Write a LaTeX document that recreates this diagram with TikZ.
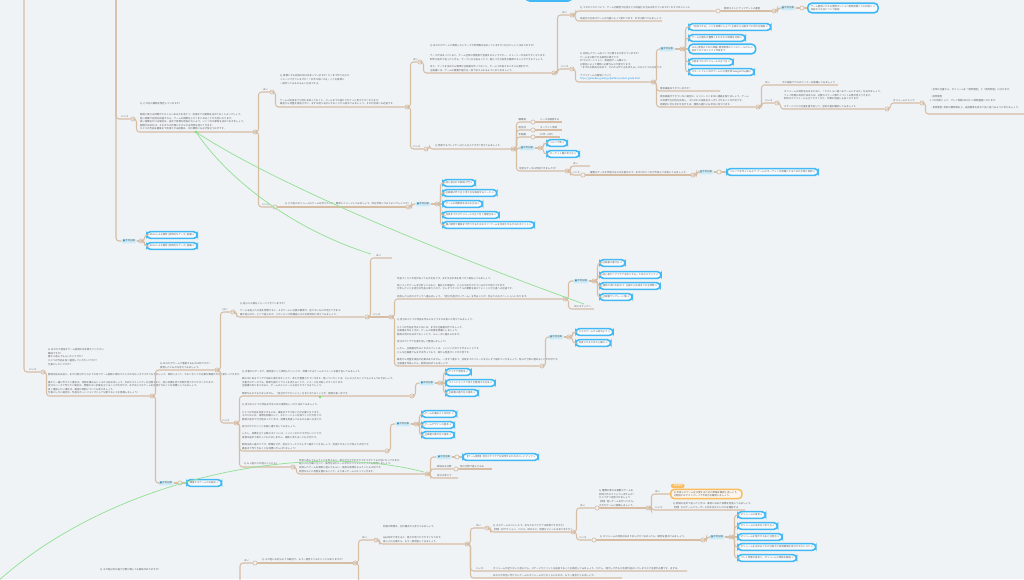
\documentclass[tikz,border=0pt]{standalone}
\usepackage{fontspec}
\newfontfamily\jp{Noto Sans CJK JP}
\newfontfamily\djv{DejaVu Sans}
\definecolor{bgc}{RGB}{239,243,246}
\definecolor{brc}{RGB}{214,189,164}
\definecolor{txc}{RGB}{95,95,95}
\definecolor{pbl}{RGB}{66,184,244}
\definecolor{pfl}{RGB}{248,251,253}
\definecolor{bfl}{RGB}{204,236,249}
\definecolor{bic}{RGB}{50,140,190}
\definecolor{gnc}{RGB}{150,224,150}
\definecolor{orc}{RGB}{250,188,92}
\definecolor{orf}{RGB}{252,246,236}
\definecolor{lnk}{RGB}{40,150,230}
\newcommand\tfont{\jp\fontsize{2.4}{3.6}\selectfont}
\newcommand\lk{~{\djv\textcolor{txc!70}{⊘}}}
\newcommand\bdg{{\djv\textcolor{bic}{■}}\,参考記事}
\tikzset{
 br/.style={draw=brc,line width=1.05pt,rounded corners=3pt},
 jn/.style={circle,draw=brc,fill=bgc,line width=0.7pt,inner sep=0pt,minimum size=4.2pt},
 txt/.style={font=\tfont,text=txc,align=left,inner sep=0pt,anchor=south west},
 lbl/.style={font=\tfont,text=txc,inner sep=0pt,anchor=south west},
 pill/.style={draw=pbl,line width=1.6pt,fill=pfl,rounded corners=3.8pt,font=\tfont,text=txc,align=left,inner xsep=3pt,inner ysep=1.8pt,minimum height=6.8pt,anchor=west},
 badge/.style={fill=bfl,rounded corners=1.5pt,font=\tfont,text=txc,inner xsep=1.6pt,inner ysep=1.1pt,anchor=west},
 grn/.style={draw=gnc,line width=0.75pt},
 gdot/.style={circle,fill=gnc!70!green,inner sep=0pt,minimum size=2.6pt},
}
\newcommand\cn[2]{\draw[br] (#1) -- ++(3.5,0) |- (#2);}
\begin{document}
\begin{tikzpicture}[x=1pt,y=-1pt]
\fill[bgc] (0,0) rectangle (1024,579);
\useasboundingbox (0,0) rectangle (1024,579);

% ---------- junctions
\foreach \n/\x/\y in {jA/43/372, jB/152/396, j1/133/119, j2/255/132, j3/272/92, j4/407/107,
  j5/275/207, j6/408/207, j6b/437/204, j7/420/62, j8/554/73, j9/426/149, j10/513/149,
  j11/572/15, j12/718/11, j13/774/11, j13b/802/8, j14/572/69, j15/653/82, j15b/682/49,
  j16/758/107, j17/777/103, j18/887/109, j19/922/103, j20a/533/122, j20b/533/130, j20c/533/137,
  j10b/540/148, j21/567/171, j22/583/175, j23/693/175, j24/719/172, j1f/141/241, jB2/180/483,
  jC/217/370, jX/233/312, jD/367/317, jP/391/317, jQ/565/299, j25/594/281, jR/542/366, j26/569/337,
  jE/236/423, jL/412/396, j30/440/383, jM/387/451, j29/416/424, jN/293/467, jO/427/474,
  j27/457/457, j28/456/469, jY/255/563, jG/355/563, jS/376/540, jH/467/544, jT/487/528,
  jI/573/532, jU/597/508, jJ/648/508, jV/594/540, jK/703/540, jK2/731/537}
  {\node[jn] (\n) at (\x,\y) {};}

% ---------- free ends
\coordinate (tr1) at (24,-6);
\coordinate (tr2) at (116,-6);
\coordinate (tb2) at (240,590);
\coordinate (tb3) at (358.5,600);
\coordinate (e1) at (662,21);
\coordinate (e2) at (720,91);
\coordinate (e3) at (838,85);
\coordinate (e4) at (1030,114);
\coordinate (e5) at (562,122);
\coordinate (e6) at (562,130);
\coordinate (e7) at (560,137);
\coordinate (e8) at (590,166);
\coordinate (e9) at (392,258);
\coordinate (e10) at (594,309);
\coordinate (e11) at (492,469);
\coordinate (e12) at (458,478);
\coordinate (e13) at (687,571);
\coordinate (e14) at (622,578);
\coordinate (e15) at (745,510);

% ---------- top bar
\node[pill,minimum width=46pt,minimum height=9pt,anchor=south west] (topbar) at (525,1.8) {};

% ---------- badges
\foreach \n/\x/\y in {b1/121/241, b2/415/204, b3/659/49, b10/780/8, b11/519/148, b12/698/172,
  b8/573/281, b9/548/337, b5/419/383, b6/395/424, b7/436/457, b4/158/483, bK/709/537}
  {\node[badge] (\n) at (\x,\y) {\bdg};}

% ---------- pills
\node[pill] (p1a) at (146,235) {SDGsによる開発 [具体的なケース] 前編\lk};
\node[pill] (p1b) at (146,246) {SDGsによる開発 [具体的なケース] 後編\lk};
\node[pill] (p2a) at (442,183) {初心者向けの開発入門\lk};
\node[pill] (p2b) at (442,193) {企画書の作り方と考え方を解説するページ\lk};
\node[pill] (p2c) at (442,204) {ゲームの規模感を決める方法\lk};
\node[pill] (p2d) at (442,215) {完成までのスケジュールの立て方と管理方法\lk};
\node[pill] (p2e) at (442,225) {個人開発で最後まで作りきるためのコツ: ゲームを完成させるためのポイント\lk};
\node[pill] (p3a) at (688,27) {「完成させる」ことを目標にしよう! 企画から公開までの流れを解説\lk};
\node[pill] (p3b) at (688,38) {ゲーム公開先の種類とそれぞれの特徴を比較\lk};
\node[pill] (p3c) at (688,49) {Unity 開発のための準備: 開発環境のインストールから\lk\\初めてのプロジェクト作成まで};
\node[pill] (p3d) at (688,62) {公開までのスケジュールの立て方\lk};
\node[pill] (p3e) at (688,72) {スマートフォン向けゲームの公開手順 Google Play編\lk};
\node[pill] (p10) at (807,8) {ゲーム開発にかかる費用はいくら? 開発規模ごとの目安と\lk\\収益化の方法について解説};
\node[pill] (p11a) at (546,143) {ペルソナ例\lk};
\node[pill] (p11b) at (546,154) {ターゲット層の考え方\lk};
\node[pill] (p12) at (726,172) {ペルソナを作ってみよう: ゲームのターゲットを明確にするための手順と実例\lk};
\node[pill] (p8a) at (599,263) {企画書の書き方\lk};
\node[pill] (p8b) at (599,275) {初心者が「アイデアを形にする」ためのステップ\lk};
\node[pill] (p8c) at (599,286) {開発の流れを知ろう: 企画から完成までの全体像\lk};
\node[pill] (p8d) at (599,297) {企画書テンプレート集\lk};
\node[pill] (p9a) at (575,332) {小さなゲームから始めよう\lk};
\node[pill] (p9b) at (575,343) {完成させるための心構え\lk};
\node[pill] (p5a) at (445,372) {アイデア発想法\lk};
\node[pill] (p5b) at (445,383) {マインドマップで考えを整理する方法\lk};
\node[pill] (p5c) at (445,393) {企画書の書き方の基本\lk};
\node[pill] (p6a) at (421,414) {ゲームの面白さとは何か\lk};
\node[pill] (p6b) at (421,425) {ゲームデザインの基本\lk};
\node[pill] (p6c) at (421,435) {企画書の書き方の基本\lk};
\node[pill] (p7) at (462,457) {【ゲーム開発】自分のアイデアを実現するためのロードマップ\lk};
\node[pill] (p4) at (186,483) {関連するゲームのお勧め\lk};
\node[pill] (pKa) at (737,515) {ボリュームの目安\lk};
\node[pill] (pKb) at (737,526) {ボリュームの決め方と考え方\lk};
\node[pill] (pKc) at (737,537) {ボリュームを増やす工夫と注意点\lk};
\node[pill] (pKd) at (737,547) {ボリュームを決めるときの注意点と開発期間を長引かせないコツ\lk};
\node[pill] (pKe) at (737,558) {プレイ時間の目安と、ボリュームの関係を解説\lk};

% ---------- orange note
\node[draw=orc,line width=1.5pt,fill=orf,rounded corners=3.4pt,font=\tfont,text=txc,align=left,inner xsep=3pt,inner ysep=1.6pt,anchor=west] (ob) at (670,494)
  {Q. 完成したゲームを公開するための準備を確認しましょう。\\公開前にはテストプレイで不具合を確認しましょう。};
\node[fill=orc,rounded corners=1.2pt,font=\tfont,text=white,inner xsep=1.8pt,inner ysep=1pt,anchor=south west] (otag) at (671,488.2) {注意事項};

% ---------- labels
\node[lbl] (l1) at (29,371) {いいえ};
\node[lbl] (l2) at (121,118) {いいえ};
\node[lbl] (l3) at (263,91) {はい};
\node[lbl] (l4) at (262,206) {いいえ};
\node[lbl] (l5) at (413,61) {はい};
\node[lbl] (l6) at (413,148) {いいえ};
\node[lbl] (l7) at (562,14) {はい};
\node[lbl] (l8) at (561,68) {いいえ};
\node[lbl] (l9) at (765,84) {はい};
\node[lbl] (l10) at (765,102) {いいえ};
\node[lbl] (l11) at (518.5,121) {職業等};
\node[lbl] (l12) at (518.5,129) {居住地};
\node[lbl] (l13) at (518.5,136) {年齢層};
\node[lbl] (l14) at (573,165) {はい};
\node[lbl] (l15) at (572.5,174) {いいえ};
\node[lbl] (l16) at (222.5,311) {はい};
\node[lbl] (l17) at (222,422) {いいえ};
\node[lbl] (l18) at (376,257) {はい};
\node[lbl] (l19) at (373,316) {いいえ};
\node[lbl] (l20) at (244,562) {はい};
\node[lbl] (l21) at (362,539) {はい};
\node[lbl] (l22) at (476,527) {はい};
\node[lbl] (l23) at (476,570) {いいえ};
\node[lbl] (l24) at (580,507) {はい};
\node[lbl] (l25) at (579,539) {いいえ};
\node[lbl] (l26) at (655,493) {はい};
\node[lbl] (l27) at (655,509) {いいえ};

% ---------- texts
\node[txt] (tQ0) at (48,365.5) {Q. あなたが目指すゲーム開発の形を教えてください。\\趣味ですか?\\誰かに遊んでもらいたいですか?\\ひとつの作品を長く運営していきたいですか?\\仕事にしたいですか?};
\node[txt] (tA2) at (48,394.3) {開発を始める前に、まずは自分がどのような形でゲーム開発に関わりたいのかをはっきりさせておきましょう。目的によって、やるべきことや必要な準備が大きく変わってきます。\\~\\誰かと一緒に作りたい場合は、仲間を集めるところから始めましょう。SNSやコミュニティを活用すると、同じ目標を持つ仲間が見つかりやすくなります。\\自分のペースで作りたい場合は、無理のない計画を立てることが大切です。まずは小さなゲームを完成させることを目標にしてみましょう。\\長く運営したい場合は、運営の体制についても考えましょう。\\仕事にしたい場合は、作品をポートフォリオとして公開することを意識しましょう!};
\node[txt] (t1q) at (140,105) {Q. どれ位の期間を想定していますか?};
\node[txt] (t1b) at (140,130.3) {開発に使える時間がどのくらいあるかを考えて、完成までの期間を決めておくとよいでしょう。\\短い期間で完成を目指すなら、ゲームの規模を小さくまとめることが大切になります。\\長い期間をかける場合は、途中で目標を見失わないよう、いくつかの節目を決めておきましょう。\\期間が決まれば、それぞれの作業にかけられる時間も見えてきます。\\ひとつの作品を最後まで完成させる経験は、次の開発にも必ず役立つはずです。};
\node[txt] (t3q) at (280,84.5) {Q. 目標とする完成の形は決まっていますか? どこまで作り込むか\\イメージできていますか? 「まずは形にする」ことを目標に\\一度作ってみるのもよい方法ですよ。};
\node[txt] (t3b) at (280,105.3) {ゲームの完成までの流れを知っておくと、ゴールまでの道のりがぐっと見えやすくなります。\\最初から完璧を目指さずに、まずは遊べる形にすることから始めてみましょう。それが完成への近道です。};
\node[txt] (t5) at (285,205.5) {Q. どれ位のボリュームのゲームを作りたいか、簡単にイメージしてみましょう。何を参考にするとよいでしょうか?};
\node[txt] (t7q) at (430,47) {Q. あなたがゲームで表現したいテーマや世界観は決まっていますか? 伝えたいことはありますか?};
\node[txt] (t7b) at (430,71.5) {テーマが決まっていると、ゲーム全体の雰囲気や登場するキャラクター、ストーリーが決めやすくなります。\\制作の途中で迷ったときも、テーマに立ち返ることで、進むべき方向性を確認することができるでしょう。\\~\\また、テーマを決めたら簡単な企画書を作っておくと、チームで共有するときにも便利です。\\企画書には、ゲームの概要や魅力を一目で伝えられるようにまとめましょう。};
\node[txt] (t9) at (435,147.5) {Q. 想定するプレイヤーはどんな人ですか? 考えてみましょう。};
\node[txt] (t11a) at (580,9.5) {Q. マネタイズについて、ゲーム内課金や広告などの収益化の方法は考えていますか? おすすめジャンル};
\node[txt] (t11b) at (580,19.5) {収益化の方法はゲームの内容によって変わります。まずは調べてみましょう。};
\node[txt] (t12) at (724,9.5) {開発コストとアップデートの運営};
\node[txt] (t14) at (580,80.5) {Q. 完成したゲームをどこで公開するか考えていますか?\\ゲームを公開できる場所は様々です。\\PCやスマートフォン、家庭用ゲーム機など、\\公開先によって開発に必要なものが変わります。\\「まずは公開先を決めて、それから作り方を考える」のもひとつの方法です。\\~\\アプリゲームの開発について\\\textcolor{lnk}{https://gamedev-guide.jp/platform/select-guide.html}};
\node[txt] (t15a) at (660,89.5) {意思疎通はできていますか?};
\node[txt] (t15b) at (660,105.5) {意思疎通ができていない場合は、メンバーとこまめに連絡を取りましょう。ゲーム\\の目標や方向性を共有し、それぞれの役割をはっきりさせることが大切です。\\定期的に打ち合わせを行えば、開発の遅れにも早めに気づけます。};
\node[txt] (t16a) at (782,83.5) {今の段階でプロのゲーマーを意識してみましょう};
\node[txt] (t17) at (784,107.5) {ボリュームの目安を決めるために、「どのくらい遊べるゲームにするか」を決めましょう。\\プレイ時間の目安が決まれば、必要なステージ数やイベントの数が見えてきます。\\制作のスケジュールも立てやすくなり、作業の見通しも良くなります。\\~\\ステージごとの分量を書き出して、全体の量を確認してみましょう。};
\node[txt] (t18) at (893,101.5) {ボリュームチェック};
\node[txt] (t19) at (930,112.5) {・全体の分量から、ボリュームを「短時間型」と「長時間型」に分けます。\\~\\・短時間型\\1つの目安として、プレイ時間は30分〜1時間程度になります。\\~\\・長時間型: 目安は数時間以上。追加要素も含めて長く遊べるように考えましょう。\\~};
\node[txt] (t20a) at (540,120.5) {ニーズを確認する};
\node[txt] (t20b) at (540,128.5) {ターゲット地域};
\node[txt] (t20c) at (540,135.5) {10代〜30代};
\node[txt] (t21) at (519,169.5) {可能なデータは作成できましたか?};
\node[txt] (t22) at (590,173.5) {複数のデータを作成するのは大変なので、まずはひとつだけ作成して共有してみましょう。};
\node[txt] (tC) at (160,368.5) {Q. あなたがゲームで重視するものは何ですか?\\表現したいものを考えてみましょう。};
\node[txt] (tXq) at (240,305) {Q. 遊ぶ人の姿をイメージできていますか?};
\node[txt] (tXb) at (240,315.5) {ゲームを遊ぶ人の姿を想像すると、そのゲームに必要な要素や、足りないものが見えてきます。\\誰が遊ぶのか、どこで遊ぶのか、どのくらいの時間遊ぶのかを具体的に考えてみましょう。};
\node[txt] (tP1) at (397,297.5) {作品づくりに不安があっても大丈夫です。まずはお手本を見つけて真似してみましょう。\\~\\気に入ったゲームを分析してみると、面白さの理由や、どんな工夫がされているのかが見えてきます。\\分析したことを自分の作品に取り入れて、少しずつオリジナルの要素を加えていくことが上達への近道です。\\~\\完成したら次のステップへ進みましょう。「自分が遊びたいゲーム」を作ることが、何よりのモチベーションになります。};
\node[txt] (tQ2) at (574,307.5) {次のステップへ};
\node[txt] (tP2) at (397,364.5) {Q. 自分のひとつの作品を作るにはどうすれば良いか考えてみましょう。\\~\\ひとつの作品を作るためには、まずは企画書を作りましょう。\\企画書を作るときは、ゲームの目標を明確にしましょう。\\開発の流れを決めておくことで、スムーズに進められます。\\~\\自分のアイデアを書き出して整理しましょう!\\~\\しかし、企画書を作るときのポイントは、ここにこだわりすぎないことです。\\どんな企画書でもまずは作ってみて、後から見直すことが大切です。\\~\\最初から完璧を目指す必要はありません。一歩ずつ進めて、完成までのイメージを少しずつ固めていきましょう。焦らず丁寧に進めることが大切です。\\企画書を作成したら、開発を始めてみましょう!};
\node[txt] (tL) at (242,394.5) {Q. 手書きのデータで、開発者として実現したいことや、目標とするゲームのイメージを書き出してみましょう。\\~\\頭の中にあるアイデアを紙に書き出すことで、考えが整理されていきます。思いついたことは、どんな小さなことでもメモしておきましょう。\\手書きのデータでも、簡単な図やイラストを添えることで、イメージを共有しやすくなります。\\企画書の形にまとめると、チームのメンバーにも伝えやすくなるでしょう。\\~\\簡単なものでもかまいません。「自分がやりたいこと」をまとめておくことが、開発の第一歩です。};
\node[txt] (tM) at (242,449.5) {Q. 自分のひとつの作品を作るための目標をしっかり決めてみましょう。\\~\\ひとつの作品を完成させるには、最後までやり抜く力が必要になります。\\そのためには、目標を明確にして、モチベーションを保つことが大切です。\\開発の途中で行き詰まったときは、目標を見直してみるのも良い方法です。\\~\\自分のやりたいことを紙に書き出してみましょう。\\~\\しかし、目標を立てる際のポイントは、ここにこだわりすぎないことです。\\目標は途中で変わってもかまいません。柔軟に考えることも大切です。\\~\\開発は長い道のりです。無理をせず、自分のペースで少しずつ進めていきましょう。完成させることが何より大切です。\\最後まで作りきることを目標にがんばりましょう!};
\node[txt] (tN) at (244,465.5) {Q. もし他の人が遊ぶとしたら?};
\node[txt] (tO) at (299,472.5) {他者に遊んでもらうことを考えると、遊びやすさやわかりやすさがとても大切になってきます。\\遊ぶ人の立場に立って、操作方法やルールがわかりやすいかどうかを確認しましょう。\\完成したゲームを実際に遊んでもらい、率直な感想をもらうことも大切です。\\感想をもとに改善を重ねることで、より良いゲームになっていきます。};
\node[txt] (tO2) at (437,467.5) {興味ある分野};
\node[txt] (tO3) at (460,467.5) {他の分野で遊んでみる};
\node[txt] (tO4) at (437,476.5) {自分の考えで};
\node[txt] (tF) at (100,571) {Q. その他以外の違う分野に関しても興味がありますか?};
\node[txt] (tY) at (262,561.5) {Q. その他にも同じような観点で、もう一度考えてみたいことはありますか?};
\node[txt] (tS) at (383,542.5) {同様の質問は、別の観点から考えてみましょう。\\~\\~\\Q\&A形式で考えると、答えが見つかりやすくなります。\\遊ぶ人の立場から、もう一度見直してみましょう。};
\node[txt] (tT) at (493,530.5) {Q. そのゲームのジャンルで、あなたのアイデアは実現できますか?\\【例】 3Dアクション、パズル、RPGなど、得意なジャンルはありますか?};
\node[txt] (tU) at (599,506.5) {Q. 種類の異なる複数のゲームを\\同時に作ろうとしていませんか?\\ひとつずつ完成させましょう\\【例】 短いゲームを作ってから、\\大きなゲームに挑戦しましょう。};
\node[txt] (tJ2) at (673,508.5) {Q. 開発の途中で迷ったときは、最初に決めた目標を見直してみましょう。\\【例】 そのゲームでユーザーに何を伝えたいのかを確認する};
\node[txt] (tV) at (600,538.5) {Q. ボリュームの目安は決まりましたか? 決まったら、開発を進めてみましょう。};
\node[txt] (tH1) at (493,569.5) {ボリュームが足りないと感じたら、ステージやイベントを追加することを検討してみましょう。ただし、増やしすぎると完成が遠のいてしまうので注意が必要です。まずは、};
\node[txt] (tH2) at (493,576.5) {あなたが本当に作りたいゲームのボリュームがどのくらいなのか、もう一度考えてみましょう!};

% ---------- connectors
\draw[br] (tr1) |- (jA);
\draw[br] (tr2) |- (j1);
\draw[br] (tr2) |- (b1);
\cn{jA}{jB}
\draw[br] (b1) -- (j1f); \cn{j1f}{p1a} \cn{j1f}{p1b}
\cn{j1}{j2}
\cn{j2}{j3} \cn{j2}{j5}
\cn{j3}{j4}
\cn{j4}{j7} \cn{j4}{j9}
\cn{j7}{j8}
\cn{j9}{j10}
\cn{j8}{j11} \cn{j8}{j14}
\cn{j11}{j12} \cn{j11}{e1}
\draw[br] (j12) -- (j13);
\cn{j13}{b10} \draw[br] (b10) -- (j13b); \draw[br] (j13b) -- (p10);
\cn{j14}{j15}
\cn{j15}{b3} \cn{j15}{e2} \cn{j15}{j16}
\draw[br] (b3) -- (j15b);
\cn{j15b}{p3a} \cn{j15b}{p3b} \draw[br] (j15b) -- (p3c); \cn{j15b}{p3d} \cn{j15b}{p3e}
\cn{j16}{e3} \cn{j16}{j17}
\cn{j17}{j18} \cn{j18}{j19} \cn{j19}{e4}
\cn{j10}{j20a} \cn{j10}{j20b} \cn{j10}{j20c} \cn{j10}{b11} \cn{j10}{j21}
\draw[br] (j20a) -- (e5); \draw[br] (j20b) -- (e6); \draw[br] (j20c) -- (e7);
\draw[br] (b11) -- (j10b); \cn{j10b}{p11a} \cn{j10b}{p11b}
\cn{j21}{e8} \cn{j21}{j22}
\draw[br] (j22) -- (j23); \cn{j23}{b12} \draw[br] (b12) -- (j24); \draw[br] (j24) -- (p12);
\draw[br] (j5) -- (j6); \cn{j6}{b2} \draw[br] (b2) -- (j6b);
\cn{j6b}{p2a} \cn{j6b}{p2b} \draw[br] (j6b) -- (p2c); \cn{j6b}{p2d} \cn{j6b}{p2e}
\cn{jB}{jC} \cn{jB}{b4} \draw[br] (b4) -- (jB2); \draw[br] (jB2) -- (p4);
\cn{jC}{jX} \cn{jC}{jE}
\cn{jX}{jD}
\cn{jD}{e9} \draw[br] (jD) -- (jP);
\cn{jP}{jQ} \cn{jP}{jR}
\cn{jQ}{b8} \cn{jQ}{e10} \draw[br] (b8) -- (j25);
\cn{j25}{p8a} \cn{j25}{p8b} \cn{j25}{p8c} \cn{j25}{p8d}
\cn{jR}{b9} \draw[br] (b9) -- (j26); \cn{j26}{p9a} \cn{j26}{p9b}
\cn{jE}{jL} \cn{jE}{jM} \cn{jE}{jN}
\cn{jL}{b5} \draw[br] (b5) -- (j30); \cn{j30}{p5a} \draw[br] (j30) -- (p5b); \cn{j30}{p5c}
\cn{jM}{b6} \draw[br] (b6) -- (j29); \cn{j29}{p6a} \cn{j29}{p6b} \cn{j29}{p6c}
\cn{jN}{jO}
\cn{jO}{b7} \cn{jO}{j28} \cn{jO}{e12}
\draw[br] (b7) -- (j27); \draw[br] (j27) -- (p7); \draw[br] (j28) -- (e11);
\draw[br] (tb2) |- (jY); \draw[br] (jY) -- (jG);
\cn{jG}{jS} \draw[br] (jG) -- ++(3.5,0) -- (tb3);
\cn{jS}{jH}
\cn{jH}{jT} \cn{jH}{e13} \cn{jH}{e14}
\cn{jT}{jI}
\cn{jI}{jU} \cn{jI}{jV}
\draw[br] (jU) -- (jJ);
\cn{jJ}{ob} \cn{jJ}{e15}
\draw[br] (jV) -- (jK); \cn{jK}{bK} \draw[br] (bK) -- (jK2);
\cn{jK2}{pKa} \cn{jK2}{pKb} \draw[br] (jK2) -- (pKc); \cn{jK2}{pKd} \cn{jK2}{pKe}

% ---------- green links
\coordinate (gd0) at (196,132);
\coordinate (ge1) at (371,254);
\coordinate (ge2) at (584,304);
\coordinate (ge3a) at (-3,582);
\coordinate (ge3) at (424,472);
\draw[grn] (gd0) .. controls (232,185) and (300,232) .. (ge1);
\draw[grn] (gd0) .. controls (265,178) and (420,245) .. (ge2);
\draw[grn] (ge3a) .. controls (110,480) and (300,440) .. (ge3);
\node[gdot] (gd) at (gd0) {};
\node[gdot] (gm) at (320,397) {};
\end{tikzpicture}
\end{document}
